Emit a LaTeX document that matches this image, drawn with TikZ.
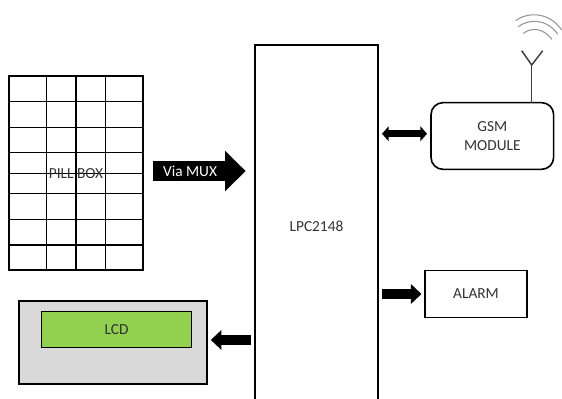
\documentclass[tikz,border=0pt]{standalone}
\usepackage{xcolor}
\usepackage{fontspec}
\setmainfont{Carlito}
\usetikzlibrary{arrows.meta,positioning}
\definecolor{lcdgreen}{RGB}{146,208,80}
\definecolor{lcdgray}{RGB}{217,217,217}
\definecolor{labelgray}{RGB}{50,50,50}
\definecolor{signalgray}{RGB}{150,150,150}

\begin{document}
\begin{tikzpicture}[
  x=0.75pt,y=-0.75pt,
  every node/.style={outer sep=0pt,font=\fontsize{11.5}{14.5}\selectfont,text=labelgray},
  block/.style={rectangle,draw=black,line width=1.2pt,align=center},
  grid/.style={draw=black,line width=1.15pt},
  port/.style={line width=7pt,draw=black,-{Triangle[length=8pt,width=14.5pt]},shorten <=3pt,shorten >=2.6pt},
  portboth/.style={line width=5.6pt,draw=black,{Triangle[length=5pt,width=11pt]}-{Triangle[length=5pt,width=11pt]},shorten <=3pt,shorten >=3pt},
  mux/.style={line width=14.3pt,draw=black,-{Triangle[length=15.5pt,width=29.5pt]},shorten <=7.5pt,shorten >=7pt},
  signal/.style={draw=signalgray,line width=0.8pt}
]
  \clip (0,0) rectangle (562,399);

  \node[block,minimum width=92.25pt,minimum height=271.5pt] (lpc) at (316.5,226) {LPC2148};
  \node[block,rounded corners=9pt,minimum width=92pt,minimum height=50pt,yshift=-1pt,right=39.75pt of lpc.east,yshift=68.5pt] (gsm) {GSM\\MODULE};
  \node[block,minimum width=76.5pt,minimum height=35pt,right=35.25pt of lpc.east,yshift=-51pt] (alarm) {ALARM};
  \node[block,line width=1.7pt,fill=lcdgray,minimum width=141pt,minimum height=62.25pt] (lcdcase) at (113.3,342.5) {};
  \node[rectangle,draw=black,line width=1.1pt,fill=lcdgreen,minimum width=112.8pt,minimum height=27pt] (lcd) at (116.5,329.7) {LCD};

  % pill box grid
  \node[block,line width=1.3pt,minimum width=100.5pt,minimum height=145.5pt] (pillbox) at (76,173.3) {};
  \foreach \x in {46.5,76,105.5}
    \draw[grid] (\x,76) -- (\x,270.5);
  \foreach \y in {101.5,127.3,152.7,173.3,193.7,219.3,245}
    \draw[grid] (9,\y) -- (143,\y);
  \node (pilllabel) at (pillbox) {PILL BOX};

  % block arrows
  \draw[mux] ([yshift=1.7pt]pillbox.east) -- node[pos=0.42,text=white] {Via MUX} ([yshift=1.7pt]pillbox.east -| lpc.west);
  \draw[portboth] ([yshift=1.7pt]gsm.west -| lpc.east) -- ([yshift=1.7pt]gsm.west);
  \draw[port] (alarm.west -| lpc.east) -- (alarm.west);
  \draw[port] ([yshift=1.9pt]lcdcase.east -| lpc.west) -- ([yshift=1.9pt]lcdcase.east);

  % antenna
  \coordinate (fork) at (531.7,65);
  \draw[line width=1.1pt,draw=black!75] (fork |- gsm.north) -- (fork);
  \draw[line width=1.1pt,draw=black!75] (521.7,50.7) -- (fork) -- (542.7,50.7);
  \draw[signal] (515.7,20.7) .. controls (525,13) and (548,10) .. (561.7,30);
  \draw[signal] (518.3,26.7) .. controls (528,19) and (546,18) .. (557.7,34);
  \draw[signal] (523.3,33.3) .. controls (532,27) and (543,28) .. (552,39.3);
\end{tikzpicture}
\end{document}
